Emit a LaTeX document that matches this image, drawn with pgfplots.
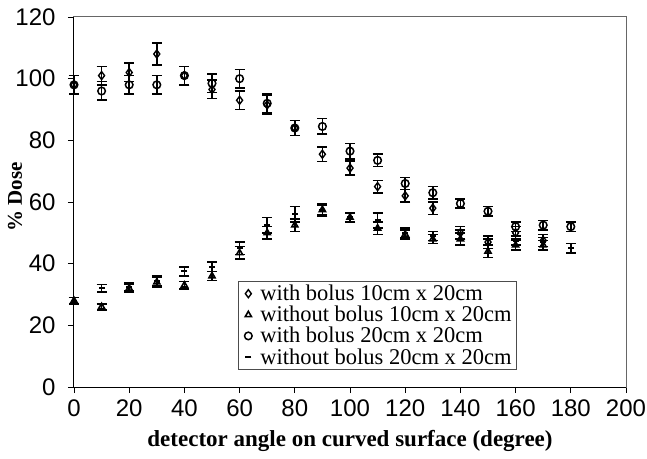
\documentclass[border=0pt]{standalone}
\usepackage{pgfplots}
\usepackage{pgfplotstable}
\pgfplotsset{compat=1.18}
\usepackage{fontspec}
\setmainfont{Liberation Serif}
\newfontfamily\arial{Liberation Sans}

\pgfplotstableread{
x y e
0 98 3
10 101 3
20 102 3
30 108 3.5
40 101 3
50 96.5 3
60 93 3
70 91.5 3
80 84 2.5
90 75.5 2.3
100 71 2.3
110 65 2
120 62 2
130 58 2
140 50 2
150 47 2
160 50 2
170 47.5 2
}\dataA

\pgfplotstableread{
x y e
0 28 1
10 26 1
20 32 1.2
30 34 1.5
40 33 1.2
50 36 1.5
60 43.5 2
70 50 2
80 52.5 2
90 57.5 2
100 55 1.5
110 51.5 2
120 49.5 1.5
130 48 1.5
140 48 2
150 44 2
160 46 1.5
170 46 1.5
}\dataB

\pgfplotstableread{
x y e
0 98 3
10 96 3
20 98 3
30 98 3
40 101 3
50 98.5 3
60 100 3
70 92 3
80 84 2.5
90 84.5 2.5
100 76.5 2.5
110 73.5 2
120 66 2
130 63 2
140 59.5 1.5
150 57 1.5
160 52 1.5
170 52.5 1.5
180 52 1.5
}\dataC

\pgfplotstableread{
x y e
0 28 1
10 32 1.2
20 32.5 1.2
30 34.5 1.5
40 37.5 1.5
50 39 1.5
60 45 2
70 52.5 2.5
80 56 2.5
90 57.5 1.5
100 55 1.5
110 54 2.5
120 50 1.5
130 49 1.5
140 49.5 1.5
150 46.5 1.5
160 47.5 1.5
170 47 1.5
180 45 1.5
}\dataD

\begin{document}
\begin{tikzpicture}
\path[use as bounding box] (-74pt,-71pt) rectangle (573pt,387pt);
\begin{axis}[
  at={(0,0)}, anchor=south west,
  scale only axis, width=552pt, height=370pt,
  xmin=0, xmax=200, ymin=0, ymax=120,
  xtick={0,20,...,200}, ytick={0,20,...,120},
  tick align=outside, xtick pos=bottom, ytick pos=left,
  major tick length=6pt,
  tick style={black, line width=0.8pt},
  axis line style={draw=black!60, line width=1pt},
  ticklabel style={font=\arial\fontsize{24}{26}\selectfont},
  xticklabel style={yshift=-3pt},
  yticklabel style={xshift=-9pt},
  /pgf/number format/assume math mode=true,
  xlabel={\textbf{detector angle on curved surface (degree)}},
  ylabel={\textbf{\% Dose}},
  xlabel style={font=\fontsize{23}{25}\selectfont, at={(axis description cs:0.5,-0.147)}, anchor=center},
  ylabel style={font=\fontsize{21}{24}\selectfont, at={(axis description cs:-0.107,0.514)}, anchor=center},
  clip=false,
  legend style={at={(0.297,0.046)}, anchor=south west, draw=black!70,
    line width=0.8pt, font=\fontsize{22.5}{24.2}\selectfont,
    inner xsep=3pt, inner ysep=2pt, row sep=0pt, cells={anchor=west}},
  legend image code/.code={\path[draw=none, fill=none] (0pt,-2pt) rectangle (17pt,2pt);
    \draw[#1] plot coordinates {(7pt,0pt)};},
  error bars/y dir=both, error bars/y explicit,
  error bars/error bar style={black, line width=1.5pt},
  error bars/error mark options={rotate=90, mark size=5pt, line width=1.5pt, black},
]
\addplot[only marks, mark=diamond, mark size=4pt, mark options={black, line width=1.4pt, fill=white}]
  table[x=x, y=y, y error=e] {\dataA};
\addlegendentry{with bolus 10cm x 20cm}
\addplot[only marks, mark=triangle, mark size=3.5pt, mark options={black, line width=1.6pt, fill=white}]
  table[x=x, y=y, y error=e] {\dataB};
\addlegendentry{without bolus 10cm x 20cm}
\addplot[only marks, mark=o, mark size=3.8pt, mark options={black, line width=1.5pt}]
  table[x=x, y=y, y error=e] {\dataC};
\addlegendentry{with bolus 20cm x 20cm}
\addplot[only marks, mark=-, mark size=3pt, mark options={black, line width=2.2pt}]
  table[x=x, y=y, y error=e] {\dataD};
\addlegendentry{without bolus 20cm x 20cm}
\draw[black, line width=1pt] (rel axis cs:0,1) -- (rel axis cs:0,0) -- (rel axis cs:1,0);
\end{axis}
\end{tikzpicture}
\end{document}
